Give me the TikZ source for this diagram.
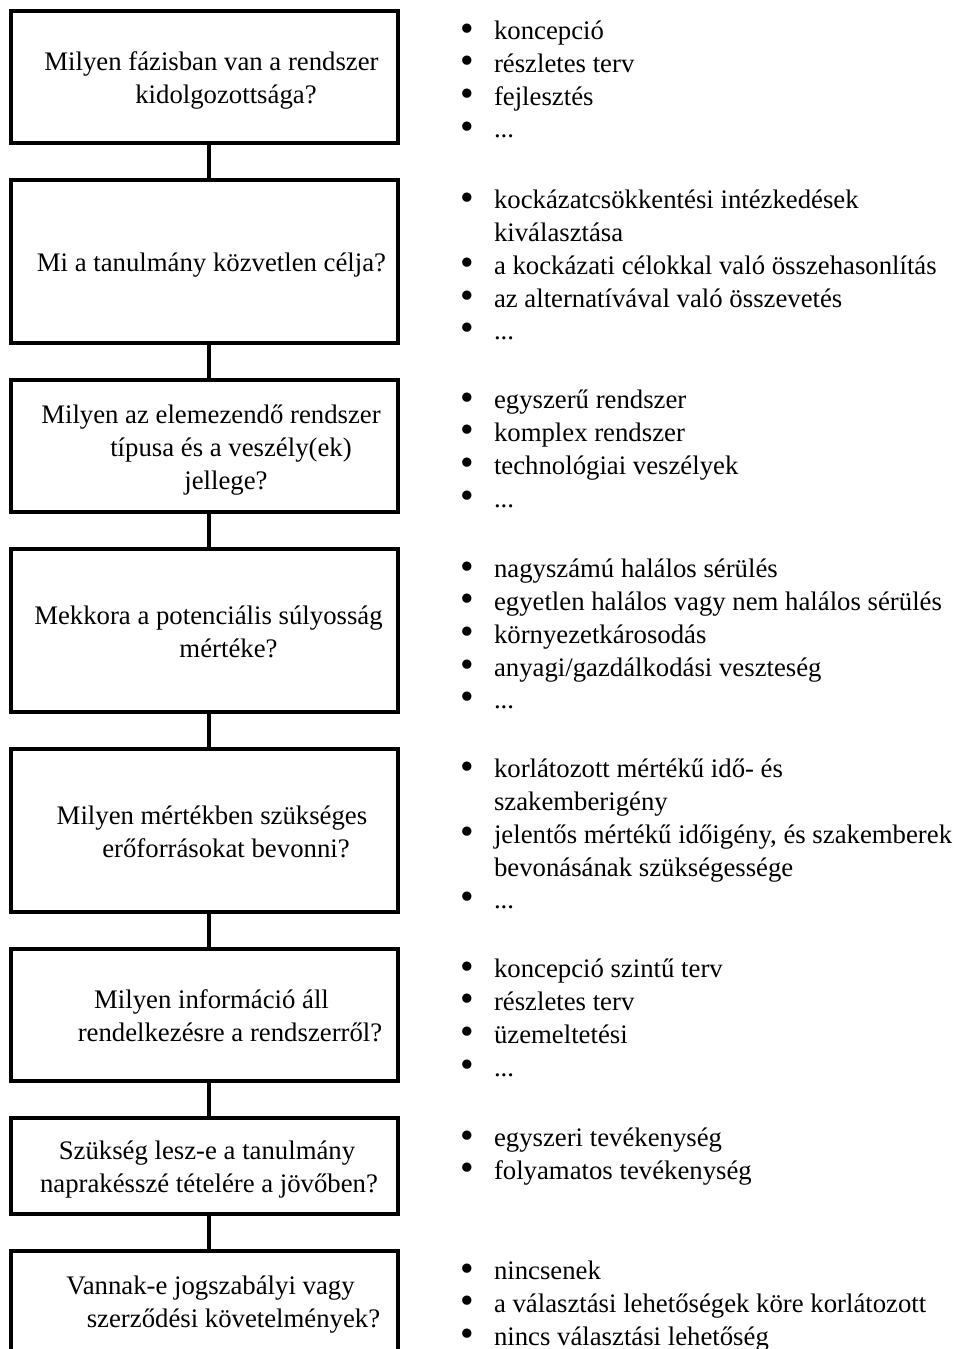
\documentclass[tikz,border=0pt]{standalone}
\usepackage{fontspec}
\setmainfont{Liberation Serif}
\usepackage{graphicx}
\usetikzlibrary{positioning}
\newcommand{\qfont}{\fontsize{10.7pt}{13.08pt}\selectfont}
% question text: rows centred, \sh{px} nudges one row sideways
\newcommand{\qtext}[1]{\raisebox{-1.5pt}[\height][\depth]{\begin{tabular}{@{}c@{}}#1\end{tabular}}}
\newcommand{\sh}[1]{\hspace*{#1\dimexpr0.8pt\relax}}
\newcommand{\bul}{\makebox[13.6pt][l]{\raisebox{-0.45pt}{\scalebox{1.45}{\textbullet}}}}
\newcommand{\itm}[1]{\bul#1\\}
\newcommand{\cnt}[1]{\hspace*{13.6pt}#1\\}
\tikzset{
  qbox/.style={draw,line width=1.6pt,minimum width=154.8pt,inner sep=0pt,font=\qfont},
  optlist/.style={inner sep=0pt,outer sep=0pt,font=\qfont},
  link/.style={line width=1.6pt}
}

\begin{document}
\begin{tikzpicture}[x=0.4pt,y=-0.4pt]
  \useasboundingbox (0,0) rectangle (956,1349);
  \clip (0,0) rectangle (956,1349);
  % questions
  \node[qbox, minimum height=52.8pt] (b1) at (204.5,77) {\qtext{\sh{7}Milyen fázisban van a rendszer\\ \sh{21.5}kidolgozottsága?}};
  \node[qbox, minimum height=65.2pt, below=13.2pt of b1] (b2) {\qtext{\sh{7}Mi a tanulmány közvetlen célja?}};
  \node[qbox, minimum height=52.8pt, below=13.2pt of b2] (b3) {\qtext{\sh{6.5}Milyen az elemezendő rendszer\\ \sh{26.5}típusa és a veszély(ek)\\ \sh{21.5}jellege?}};
  \node[qbox, minimum height=65.2pt, below=13.2pt of b3] (b4) {\qtext{\sh{4}Mekkora a potenciális súlyosság\\ \sh{24}mértéke?}};
  \node[qbox, minimum height=65.2pt, below=13.2pt of b4] (b5) {\qtext{\sh{7.5}Milyen mértékben szükséges\\ \sh{21.5}erőforrásokat bevonni?}};
  \node[qbox, minimum height=52.8pt, below=13.2pt of b5] (b6) {\qtext{\sh{7}Milyen információ áll\\ \sh{25.5}rendelkezésre a rendszerről?}};
  \node[qbox, minimum height=38.4pt, below=13.2pt of b6] (b7) {\qtext{\sh{2.5}Szükség lesz-e a tanulmány\\ \sh{4.5}naprakésszé tételére a jövőben?}};
  \node[qbox, minimum height=40pt, below=13.2pt of b7] (b8) {\qtext{\sh{6}Vannak-e jogszabályi vagy\\ \sh{29}szerződési követelmények?}};
  \foreach \a/\b in {b1/b2,b2/b3,b3/b4,b4/b5,b5/b6,b6/b7,b7/b8}
    \draw[link] ([xshift=1.8pt]\a.south) -- ([xshift=1.8pt]\b.north);
  % answers
  \node[optlist, below right=3.2pt and 24pt of b1.north east] (l1) {\begin{tabular}[t]{@{}l@{}}
    \itm{koncepció}\itm{részletes terv}\itm{fejlesztés}\itm{...}\end{tabular}};
  \node[optlist, below right=3.2pt and 24pt of b2.north east] (l2) {\begin{tabular}[t]{@{}l@{}}
    \itm{kockázatcsökkentési intézkedések}\cnt{kiválasztása}
    \itm{a kockázati célokkal való összehasonlítás}\itm{az alternatívával való összevetés}\itm{...}\end{tabular}};
  \node[optlist, below right=3.2pt and 24pt of b3.north east] (l3) {\begin{tabular}[t]{@{}l@{}}
    \itm{egyszerű rendszer}\itm{komplex rendszer}\itm{technológiai veszélyek}\itm{...}\end{tabular}};
  \node[optlist, below right=3.2pt and 24pt of b4.north east] (l4) {\begin{tabular}[t]{@{}l@{}}
    \itm{nagyszámú halálos sérülés}\itm{egyetlen halálos vagy nem halálos sérülés}
    \itm{környezetkárosodás}\itm{anyagi/gazdálkodási veszteség}\itm{...}\end{tabular}};
  \node[optlist, below right=3.2pt and 24pt of b5.north east] (l5) {\begin{tabular}[t]{@{}l@{}}
    \itm{korlátozott mértékű idő- és}\cnt{szakemberigény}
    \itm{jelentős mértékű időigény, és szakemberek}\cnt{bevonásának szükségessége}\itm{...}\end{tabular}};
  \node[optlist, below right=3.2pt and 24pt of b6.north east] (l6) {\begin{tabular}[t]{@{}l@{}}
    \itm{koncepció szintű terv}\itm{részletes terv}\itm{üzemeltetési}\itm{...}\end{tabular}};
  \node[optlist, below right=3.2pt and 24pt of b7.north east] (l7) {\begin{tabular}[t]{@{}l@{}}
    \itm{egyszeri tevékenység}\itm{folyamatos tevékenység}\end{tabular}};
  \node[optlist, below right=3.2pt and 24pt of b8.north east] (l8) {\begin{tabular}[t]{@{}l@{}}
    \itm{nincsenek}\itm{a választási lehetőségek köre korlátozott}\itm{nincs választási lehetőség}\end{tabular}};
\end{tikzpicture}
\end{document}
